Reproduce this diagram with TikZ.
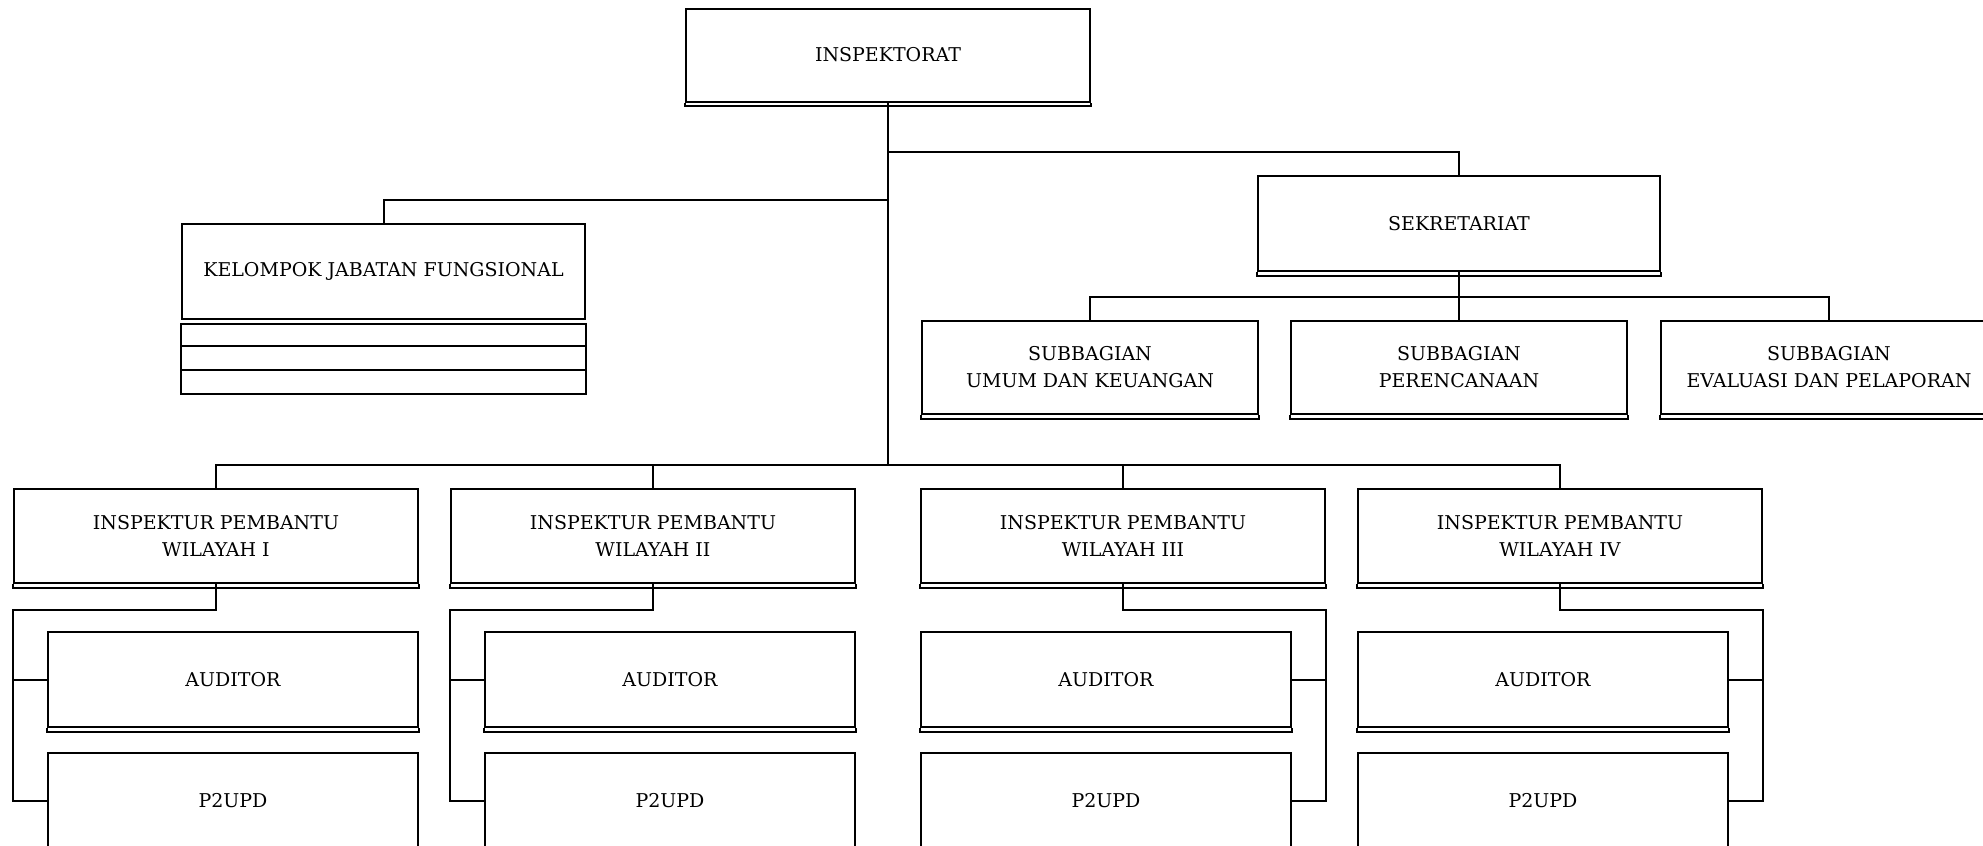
\documentclass[tikz,border=0pt]{standalone}
\usepackage{fontspec}
\setmainfont{DejaVu Serif}
\usetikzlibrary{calc}
\begin{document}
\begin{tikzpicture}[x=0.5pt,y=-0.5pt,line width=1pt,
  box/.style={draw,rectangle,inner sep=0pt,align=center,line width=1pt,
    font=\fontsize{9.5}{13.5}\selectfont},
  wide/.style={minimum width=202pt,minimum height=47pt},
  subw/.style={minimum width=168pt,minimum height=46.5pt},
  audw/.style={minimum width=185pt,minimum height=47.5pt}]
\useasboundingbox (0,0) rectangle (1983,846);
% top
\node[box,wide,minimum height=46.5pt] (insp) at (888,55) {INSPEKTORAT};
\node[box,minimum width=201pt,minimum height=47.5pt] (sek) at (1459,223.5) {SEKRETARIAT};
\node[box,minimum width=201.5pt,minimum height=47.5pt] (kjf) at (383.5,271.5) {KELOMPOK JABATAN FUNGSIONAL};
\node[box,subw] (sub1) at (1090,367.5) {SUBBAGIAN\\UMUM DAN KEUANGAN};
\node[box,subw] (sub2) at (1459,367.5) {SUBBAGIAN\\PERENCANAAN};
\node[box,subw] (sub3) at (1829,367.5) {SUBBAGIAN\\EVALUASI DAN PELAPORAN};
% inspektur pembantu
\node[box,wide] (ip1) at (216,536) {INSPEKTUR PEMBANTU\\WILAYAH I};
\node[box,wide] (ip2) at (653,536) {INSPEKTUR PEMBANTU\\WILAYAH II};
\node[box,wide] (ip3) at (1123,536) {INSPEKTUR PEMBANTU\\WILAYAH III};
\node[box,wide] (ip4) at (1560,536) {INSPEKTUR PEMBANTU\\WILAYAH IV};
\node[box,audw] (aud1) at (233,679.5) {AUDITOR};
\node[box,audw] (aud2) at (670,679.5) {AUDITOR};
\node[box,audw] (aud3) at (1106,679.5) {AUDITOR};
\node[box,audw] (aud4) at (1543,679.5) {AUDITOR};
\node[box,audw] (p1) at (233,800.5) {P2UPD};
\node[box,audw] (p2) at (670,800.5) {P2UPD};
\node[box,audw] (p3) at (1106,800.5) {P2UPD};
\node[box,audw] (p4) at (1543,800.5) {P2UPD};
% double bottom lines
\foreach \n in {insp,sek,sub1,sub2,sub3,ip1,ip2,ip3,ip4,aud1,aud2,aud3,aud4}{
  \draw (\n.south west) -- ++(0,3.5) -- ($(\n.south east)+(0,3.5)$) -- (\n.south east);
}
% kelompok rows
\draw ($(kjf.south west)+(0,3.5)$) rectangle ($(kjf.south east)+(0,74)$);
\draw ($(kjf.south west)+(0,26)$) -- ($(kjf.south east)+(0,26)$);
\draw ($(kjf.south west)+(0,50)$) -- ($(kjf.south east)+(0,50)$);
% connectors
\coordinate (jS) at (888,152);
\coordinate (jK) at (888,200);
\coordinate (bus) at (888,465);
\coordinate (sb) at (1459,297);
\draw (insp.south) -- (bus);
\draw (jS) -| (sek.north);
\draw (jK) -| (kjf.north);
\draw (sek.south) -- (sb);
\draw (sub1.north) |- (sb) -| (sub3.north);
\draw (sub2.north) -- (sb);
\draw (ip1.north) |- (bus) -| (ip4.north);
\draw (ip2.north) |- (bus);
\draw (ip3.north) |- (bus);
% lower connectors
\foreach \i/\side in {1/west,2/west,3/east,4/east}{
  \coordinate (k\i) at ($(ip\i.south \side)+(0,26)$);
  \draw (ip\i.south) |- (k\i) |- (p\i.\side);
  \draw (aud\i.\side) -- (aud\i.\side -| k\i);
}
\end{tikzpicture}
\end{document}
